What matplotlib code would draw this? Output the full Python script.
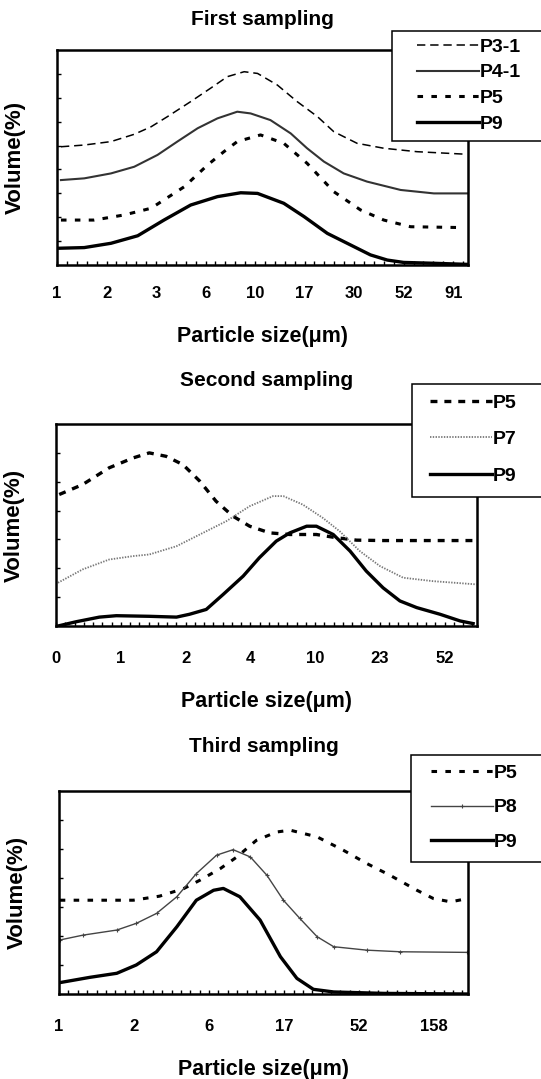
import numpy as np
import matplotlib
matplotlib.use("Agg")
import matplotlib.pyplot as plt
from matplotlib.patches import Rectangle

plt.rcParams['font.family'] = ['Liberation Sans', 'DejaVu Sans']
plt.rcParams['font.weight'] = 'bold'
plt.rcParams['lines.scale_dashes'] = False

# ---- data (x = position along the category axis, y = relative volume 0..100) ----
# First sampling
tick1 = ["1", "2", "3", "6", "10", "17", "30", "52", "91"]
p31_x = [0.08, 0.55, 1.09, 1.56, 1.90, 2.23, 2.70, 3.10, 3.44, 3.78, 4.05, 4.45, 4.85, 5.26, 5.59, 6.06, 6.60, 7.27, 7.94, 8.28]
p31_y = [55.0, 55.8, 57.4, 60.8, 64.3, 69.0, 76.0, 82.2, 87.6, 89.9, 89.1, 83.7, 76.0, 69.0, 62.0, 56.6, 54.3, 52.7, 51.9, 51.5]
p41_x = [0.08, 0.55, 1.09, 1.56, 2.03, 2.43, 2.84, 3.24, 3.64, 3.91, 4.31, 4.72, 5.05, 5.39, 5.79, 6.26, 6.94, 7.61, 8.28]
p41_y = [39.5, 40.3, 42.6, 45.7, 51.2, 57.4, 63.6, 68.2, 71.3, 70.5, 67.4, 61.2, 54.3, 48.1, 42.6, 38.8, 34.9, 33.3, 33.3]
p5a_x = [0.08, 0.75, 1.36, 1.90, 2.57, 3.04, 3.37, 3.64, 4.11, 4.58, 5.05, 5.59, 6.13, 6.60, 7.14, 8.21]
p5a_y = [20.9, 20.9, 23.3, 26.4, 36.4, 46.5, 52.7, 57.4, 60.5, 56.6, 47.3, 34.1, 25.6, 20.9, 17.8, 17.4]
p9a_x = [0.05, 0.55, 1.09, 1.63, 2.16, 2.70, 3.24, 3.71, 4.05, 4.58, 4.99, 5.46, 5.93, 6.33, 6.67, 7.00, 7.61, 8.28]
p9a_y = [7.8, 8.1, 10.1, 13.6, 20.9, 27.9, 31.8, 33.6, 33.3, 28.7, 22.5, 14.7, 9.3, 4.7, 2.3, 1.2, 0.8, 0.3]

# Second sampling
tick2 = ["0", "1", "2", "4", "10", "23", "52"]
p5b_x = [0.05, 0.41, 0.82, 1.19, 1.44, 1.70, 1.96, 2.22, 2.47, 2.73, 2.99, 3.30, 3.61, 4.02, 4.33, 4.64, 5.05, 6.44]
p5b_y = [65.1, 70.0, 78.3, 83.2, 85.7, 84.0, 79.9, 71.7, 61.8, 54.4, 49.4, 46.1, 45.3, 45.3, 43.7, 42.5, 42.3, 42.3]
p7_x = [0.03, 0.41, 0.82, 1.19, 1.44, 1.86, 2.22, 2.63, 2.99, 3.35, 3.51, 3.81, 4.12, 4.38, 4.69, 5.00, 5.36, 5.82, 6.49]
p7_y = [21.4, 28.0, 32.9, 34.6, 35.4, 39.5, 45.3, 51.9, 59.3, 64.3, 64.3, 60.1, 53.5, 46.9, 37.1, 29.7, 23.9, 22.2, 20.6]
p9b_x = [0.03, 0.31, 0.67, 0.93, 1.44, 1.86, 2.06, 2.32, 2.58, 2.89, 3.14, 3.40, 3.61, 3.87, 4.02, 4.28, 4.54, 4.79, 5.05, 5.31, 5.57, 5.93, 6.24, 6.44]
p9b_y = [0.0, 2.1, 4.4, 5.1, 4.8, 4.4, 5.8, 8.2, 15.6, 24.7, 33.8, 42.0, 46.1, 49.4, 49.4, 45.3, 37.1, 27.2, 18.9, 12.4, 9.1, 5.8, 2.5, 1.2]

# Third sampling
tick3 = ["1", "2", "6", "17", "52", "158"]
p5c_x = [0.01, 0.54, 0.99, 1.34, 1.66, 1.88, 2.15, 2.37, 2.63, 2.90, 3.08, 3.44, 3.79, 4.10, 4.41, 4.77, 4.99, 5.22, 5.44]
p5c_y = [46.2, 46.2, 46.2, 48.2, 51.9, 56.1, 61.8, 67.5, 75.7, 79.8, 80.7, 77.4, 70.8, 64.3, 58.5, 51.1, 47.0, 45.4, 47.0]
p8_x = [0.01, 0.32, 0.77, 1.03, 1.30, 1.57, 1.83, 2.10, 2.32, 2.55, 2.77, 2.99, 3.21, 3.44, 3.66, 4.10, 4.55, 5.44]
p8_y = [26.6, 29.0, 31.5, 34.8, 39.7, 47.9, 59.3, 68.4, 71.1, 67.5, 58.5, 46.2, 37.2, 28.2, 23.3, 21.6, 20.8, 20.5]
p9c_x = [0.01, 0.41, 0.77, 1.03, 1.30, 1.57, 1.83, 2.06, 2.19, 2.41, 2.68, 2.95, 3.17, 3.39, 3.66, 4.33, 5.44]
p9c_y = [5.6, 8.2, 10.2, 14.3, 20.8, 33.1, 46.2, 51.1, 52.0, 47.9, 36.4, 18.4, 7.7, 2.3, 1.0, 0.3, 0.0]

W, H = 541, 1079
fig = plt.figure(figsize=(W / 100, H / 100), dpi=100)


def px_rect(x0, y0, x1, y1):
    return [x0 / W, 1 - y1 / H, (x1 - x0) / W, (y1 - y0) / H]


def setup(ax, ticks, xmax, ystep, nminor, title, tpad, tickpad):
    ax.set_xlim(0, xmax)
    ax.set_ylim(0, 100)
    ax.set_xticks(range(len(ticks)))
    ax.set_xticklabels(ticks)
    ax.set_xticks(np.arange(0, xmax, 1 / nminor), minor=True)
    ax.set_yticks(np.arange(ystep, 100, ystep))
    ax.set_yticklabels([])
    ax.tick_params(axis='x', which='both', direction='in', length=3, width=1,
                   pad=tickpad, labelsize=12)
    ax.tick_params(axis='y', direction='in', length=3, width=1)
    for s in ax.spines.values():
        s.set_linewidth(1.8)
    ax.set_title(title, fontsize=15, fontweight='bold', pad=tpad)
    ax.set_xlabel("Particle size(μm)", fontsize=15.5, fontweight='bold', labelpad=18)
    ax.set_ylabel("Volume(%)", fontsize=16, fontweight='bold', labelpad=19)


def legend_box(x0, y0, y1, hx, hy, handles, labels, spacing):
    fig.add_artist(Rectangle((x0 / W, 1 - y1 / H), (W + 5 - x0) / W, (y1 - y0) / H,
                             transform=fig.transFigure, facecolor='white',
                             edgecolor='black', linewidth=1.1, zorder=4, clip_on=False))
    fig.legend(handles, labels, loc='upper left', bbox_to_anchor=(hx / W, 1 - hy / H),
               frameon=False, borderpad=0, borderaxespad=0, handlelength=3.2,
               handletextpad=0.05, labelspacing=spacing, prop={'size': 14, 'weight': 'bold'})


# First sampling
ax1 = fig.add_axes(px_rect(57, 50, 468, 265))
l1, = ax1.plot(p31_x, p31_y, color='black', lw=1.1, ls=(0, (6, 3.5)))
l2, = ax1.plot(p41_x, p41_y, color='#333333', lw=1.5)
l3, = ax1.plot(p5a_x, p5a_y, color='black', lw=2.2, ls=(0, (4, 6)))
l4, = ax1.plot(p9a_x, p9a_y, color='black', lw=2.4)
setup(ax1, tick1, 8.3, 100 / 9, 5, "First sampling", 18, 15)
legend_box(392, 31, 141, 417, 38, [l1, l2, l3, l4], ["P3-1", "P4-1", "P5", "P9"], 0.42)

# Second sampling
ax2 = fig.add_axes(px_rect(56, 424, 477, 626))
m1, = ax2.plot(p5b_x, p5b_y, color='black', lw=2.4, ls=(0, (5, 5)))
m2, = ax2.plot(p7_x, p7_y, color='#777777', lw=1.3, ls=(0, (1, 1)))
m3, = ax2.plot(p9b_x, p9b_y, color='black', lw=2.4)
setup(ax2, tick2, 6.5, 100 / 7, 7, "Second sampling", 27, 18)
legend_box(412, 384, 497, 430, 394, [m1, m2, m3], ["P5", "P7", "P9"], 0.98)

# Third sampling
ax3 = fig.add_axes(px_rect(59, 791, 468, 994))
n1, = ax3.plot(p5c_x, p5c_y, color='black', lw=2.2, ls=(0, (4, 6)))
n2, = ax3.plot(p8_x, p8_y, color='#444444', lw=1.0, marker='+', ms=3, mew=0.8)
n3, = ax3.plot(p9c_x, p9c_y, color='black', lw=2.4)
setup(ax3, tick3, 5.45, 100 / 7, 8, "Third sampling", 28, 18)
legend_box(411, 755, 862, 431, 764, [n1, n2, n3], ["P5", "P8", "P9"], 0.88)

fig.savefig("out.png", dpi=100)
